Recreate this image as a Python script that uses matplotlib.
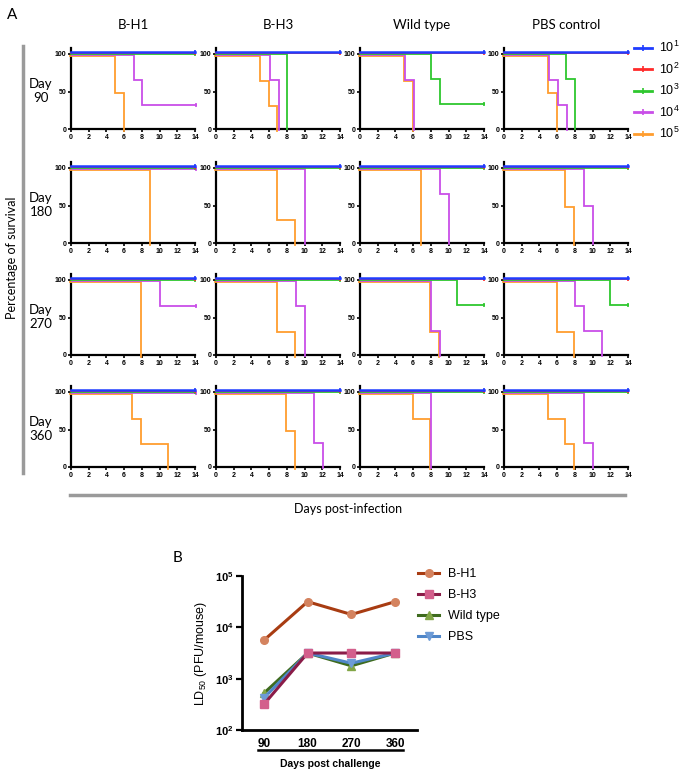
import matplotlib
matplotlib.use("Agg")
import matplotlib.pyplot as plt
import matplotlib.transforms as mtransforms
from matplotlib.lines import Line2D
from matplotlib.ticker import NullLocator, FixedLocator

plt.rcParams['mathtext.fontset'] = 'custom'
plt.rcParams['mathtext.rm'] = 'Liberation Sans'
plt.rcParams['mathtext.bf'] = 'Liberation Sans:bold'
plt.rcParams['mathtext.it'] = 'Liberation Sans:italic'

# ---------------- data ----------------
groups = ["B-H1", "B-H3", "Wild type", "PBS control"]
days = [90, 180, 270, 360]
dose_labels = [r"$10^{1}$", r"$10^{2}$", r"$10^{3}$", r"$10^{4}$", r"$10^{5}$"]
dose_colors = ["#1f3cff", "#ff2a2a", "#2ec72e", "#c94ee8", "#ff9d2e"]

# survival drop events (day, new % survival) per dose 10^1..10^5
day90_drops = {
    "B-H1": [[], [], [], [(7, 66.7), (8, 33.3)], [(5, 50), (6, 0)]],
    "B-H3": [[], [], [(8, 0)], [(6, 66.7), (7, 0)], [(5, 66.7), (6, 33.3), (7, 0)]],
    "Wild type": [[], [], [(8, 66.7), (9, 33.3)], [(5, 66.7), (6, 0)], [(5, 66.7), (6, 0)]],
    "PBS control": [[], [], [(7, 66.7), (8, 0)], [(5, 66.7), (6, 33.3), (7, 0)], [(5, 50), (6, 0)]],
}
day180_drops = {
    "B-H1": [[], [], [], [], [(9, 0)]],
    "B-H3": [[], [], [], [(10, 0)], [(7, 33.3), (9, 0)]],
    "Wild type": [[], [], [], [(9, 66.7), (10, 0)], [(7, 0)]],
    "PBS control": [[], [], [], [(9, 50), (10, 0)], [(7, 50), (8, 0)]],
}
day270_drops = {
    "B-H1": [[], [], [], [(10, 66.7)], [(8, 0)]],
    "B-H3": [[], [], [], [(9, 66.7), (10, 0)], [(7, 33.3), (9, 0)]],
    "Wild type": [[], [], [(11, 66.7)], [(8, 33.3), (9, 0)], [(8, 33.3), (9, 0)]],
    "PBS control": [[], [], [(12, 66.7)], [(8, 66.7), (9, 33.3), (11, 0)], [(6, 33.3), (8, 0)]],
}
day360_drops = {
    "B-H1": [[], [], [], [], [(7, 66.7), (8, 33.3), (11, 0)]],
    "B-H3": [[], [], [], [(11, 33.3), (12, 0)], [(8, 50), (9, 0)]],
    "Wild type": [[], [], [], [(8, 0)], [(6, 66.7), (8, 0)]],
    "PBS control": [[], [], [], [(9, 33.3), (10, 0)], [(5, 66.7), (7, 33.3), (8, 0)]],
}
all_drops = [day90_drops, day180_drops, day270_drops, day360_drops]
study_end = 14

# panel B: LD50 (PFU/mouse)
challenge_days = ["90", "180", "270", "360"]
ld50_bh1 = [5600, 31600, 17800, 31600]
ld50_bh3 = [316, 3160, 3160, 3160]
ld50_wt = [520, 3160, 1780, 3160]
ld50_pbs = [420, 3160, 2000, 3160]

# ---------------- figure ----------------
W, H = 685, 775
fig = plt.figure(figsize=(W / 100, H / 100), dpi=100)


def add_px_axes(left, top, right, bottom):
    return fig.add_axes([left / W, 1 - bottom / H, (right - left) / W, (bottom - top) / H])


def ftext(x, y, s, **kw):
    fig.text(x / W, 1 - y / H, s, **kw)


def step_xy(events):
    xs, ys = [0], [100]
    for t, lev in events:
        xs += [t, t]
        ys += [ys[-1], lev]
    if ys[-1] > 0:
        xs.append(study_end)
        ys.append(ys[-1])
    return xs, ys


col_left = [71, 216, 360, 504]
col_w = 124
row_bottom = [129, 243, 355, 467]
row_h = 81

offsets_px = [(0, 1.6), (0, 0.8), (0, 0.0), (0.6, -0.8), (-0.6, -1.6)]
tick_font = dict(family="Liberation Sans", weight="bold", size=5)

for r, drops in enumerate(all_drops):
    for c, g in enumerate(groups):
        ax = add_px_axes(col_left[c], row_bottom[r] - row_h, col_left[c] + col_w, row_bottom[r])
        for k in [4, 3, 2, 1, 0]:
            xs, ys = step_xy(drops[g][k])
            dx, dy = offsets_px[k]
            tr = mtransforms.offset_copy(ax.transData, fig=fig, x=dx * 0.72, y=dy * 0.72, units='points')
            ax.plot(xs, ys, color=dose_colors[k], lw=1.3 if k else 1.8, transform=tr,
                    solid_joinstyle='miter', clip_on=False, zorder=3 + (4 - k))
            if ys[-1] > 0:
                ax.plot([xs[-1]], [ys[-1]], marker='|', ms=3, mew=1.2, color=dose_colors[k],
                        transform=tr, clip_on=False, zorder=3 + (4 - k))
        ax.set_xlim(0, 14)
        ax.set_ylim(0, 108)
        for s in ["top", "right"]:
            ax.spines[s].set_visible(False)
        for s in ["left", "bottom"]:
            ax.spines[s].set_linewidth(1.6)
            ax.spines[s].set_color("black")
        ax.xaxis.set_major_locator(FixedLocator([0, 2, 4, 6, 8, 10, 12, 14]))
        ax.yaxis.set_major_locator(FixedLocator([0, 50, 100]))
        ax.tick_params(length=2.5, width=1.2, pad=1.0, colors="black")
        for lab in ax.get_xticklabels() + ax.get_yticklabels():
            lab.set_fontproperties(matplotlib.font_manager.FontProperties(**tick_font))
        ax.patch.set_alpha(0)
        if r == 0:
            ftext(col_left[c] + col_w / 2, 25, g, ha="center", va="center",
                  family="Lato", size=9.5)
    ftext(41, row_bottom[r] - 38, f"Day\n{days[r]}", ha="center", va="center",
          family="Lato", size=9.5, linespacing=1.25)

# panel A decorations
ftext(12, 15, "A", ha="center", va="center", family="Lato", size=11)
ftext(12, 258, "Percentage of survival", ha="center", va="center", rotation=90,
      family="Lato", size=9)
fig.add_artist(Line2D([23 / W, 23 / W], [1 - 46 / H, 1 - 473 / H], color="#9a9a9a", lw=2.5))
fig.add_artist(Line2D([70 / W, 625 / W], [1 - 495 / H, 1 - 495 / H], color="#9a9a9a", lw=2.5))
ftext(348, 509, "Days post-infection", ha="center", va="center", family="Lato", size=9)

leg_handles = [Line2D([], [], color=col, lw=2.0, marker='|', ms=4, mew=1.2) for col in dose_colors]
fig.legend(leg_handles, dose_labels, loc="upper left", bbox_to_anchor=(634 / W, 1 - 40 / H),
           frameon=False, prop=dict(family="Liberation Sans", size=9), handlelength=1.4,
           handletextpad=0.6, labelspacing=0.5, borderaxespad=0, borderpad=0, numpoints=1)

# ---------------- panel B ----------------
ftext(178, 558, "B", ha="center", va="center", family="Lato", size=11)
axb = add_px_axes(242, 576, 417, 730)
xpos = list(range(len(challenge_days)))
series_b = [
    ("B-H1", ld50_bh1, "#a83c12", "#d4835f", "o"),
    ("B-H3", ld50_bh3, "#8a1c48", "#d35f8c", "s"),
    ("Wild type", ld50_wt, "#3e6b1e", "#82a646", "^"),
    ("PBS", ld50_pbs, "#4f86c8", "#6d9bd6", "v"),
]
handles_b = []
zorders = {"B-H1": 6, "B-H3": 5, "Wild type": 3, "PBS": 4}
for name, vals, lc, mc, mk in series_b:
    h, = axb.plot(xpos, vals, color=lc, lw=2.2, marker=mk, ms=5.5, mfc=mc, mec=mc,
                  label=name, clip_on=False, zorder=zorders[name])
    handles_b.append(h)
axb.set_yscale("log")
axb.set_ylim(1e2, 1e5)
axb.set_xlim(-0.5, 3.5)
axb.yaxis.set_major_locator(FixedLocator([1e2, 1e3, 1e4, 1e5]))
axb.yaxis.set_minor_locator(NullLocator())
axb.set_yticklabels([r"$\mathbf{10^{2}}$", r"$\mathbf{10^{3}}$", r"$\mathbf{10^{4}}$", r"$\mathbf{10^{5}}$"],
                    fontsize=8)
axb.set_xticks(xpos)
axb.set_xticklabels(challenge_days, fontsize=8.5, fontweight="bold", family="Liberation Sans")
axb.tick_params(axis="x", length=0, pad=6)
axb.tick_params(axis="y", length=4, width=1.6, pad=2)
for s in ["top", "right"]:
    axb.spines[s].set_visible(False)
for s in ["left", "bottom"]:
    axb.spines[s].set_linewidth(2)
axb.set_ylabel(r"LD$_{50}$ (PFU/mouse)", family="Liberation Sans", fontsize=9, labelpad=4)
fig.add_artist(Line2D([258 / W, 403 / W], [1 - 750 / H, 1 - 750 / H], color="black", lw=1.8))
ftext(330, 764, "Days post challenge", ha="center", va="center", family="Liberation Sans",
      weight="bold", size=7.5)
fig.legend(handles_b, [s[0] for s in series_b], loc="upper left",
           bbox_to_anchor=(418 / W, 1 - 568 / H), frameon=False,
           prop=dict(family="Liberation Sans", size=9), handlelength=1.7, handletextpad=0.7,
           labelspacing=0.72, borderaxespad=0, borderpad=0, numpoints=1)

fig.savefig("out.png", dpi=100)
